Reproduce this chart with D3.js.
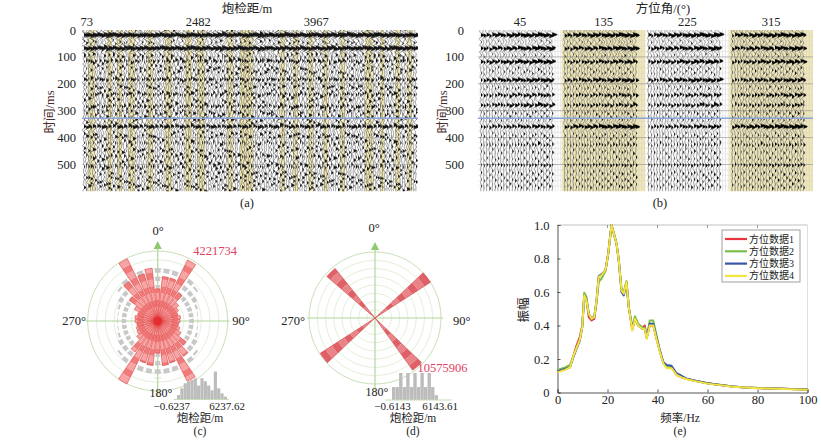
<!DOCTYPE html>
<html>
<head>
<meta charset="utf-8">
<script src="https://cdn.jsdelivr.net/npm/d3@7"></script>
<style>
  body { margin: 0; background: #fff; }
  svg { display: block; }
  text { font-family: "Liberation Serif", "Noto Sans CJK SC", serif; fill: #222; }
</style>
</head>
<body>
<svg id="fig" width="821" height="441"></svg>
<script>
// ---------- data ----------
// (a) offset gather
const aOffsetTicks = ["73", "2482", "3967"];
const aOffsetTickTrace = [1, 51, 104];
const aEventTimes = [19, 68, 115, 183, 239, 283, 359, 421, 471, 508];
const aEventAmps = [1.3, 1.2, 0.6, 0.65, 0.55, 0.6, 0.95, 0.35, 0.35, 0.4];
const aNoiseTimes = [6, 40, 52, 90, 100, 135, 150, 162, 205, 220, 260, 300, 312, 335, 385, 400, 440, 455, 490, 525, 540, 555, 570, 585];
const aYellowBands = [[1.8, 4.9], [10.3, 12.6], [14.8, 17.1], [19.7, 22.9], [28.3, 31], [36.4, 39.5], [45.3, 48.5], [50.7, 54.3],
  [64.2, 66.9], [70, 75.9], [88, 90.2], [93.8, 96], [100.5, 102.8], [107.3, 109.5], [114.9, 117.1], [126.1, 129.7],
  [132.9, 134.7], [139.6, 141.8], [145, 147.2]];
const aTraceShift = [0, 9, -6, 14, -11, 4, -3, 11, -8, 6, -13, 2, 8, -5, 12, -2, 5];
const aTraceJitter = [0, 2, -1, 3, -2, 1, -3];
const aNoiseAmp = [0.15, 0.3, 0.95, 0.2, 0.1, 0.55, 0.25, 0.85, 0.15, 0.35, 0.1, 0.65, 0.2];
const aEventVar = [1, 0.5, 0.9, 0.3, 0.8, 0.6, 1.1];

// (b) azimuth gather
const bAzimuths = ["45", "135", "225", "315"];
const bYellow = [false, true, false, true];
const bEventTimes = [19, 68, 118, 186, 242, 279, 359, 427, 502];
const bEventAmps = [
  [1.0, 0.95, 0.9, 0.8, 0.6, 0.7, 0.6, 0.35, 0.35],
  [1.0, 0.9, 0.7, 0.75, 0.55, 0.55, 0.9, 0.35, 0.35],
  [1.0, 0.9, 0.85, 0.8, 0.55, 0.6, 0.6, 0.3, 0.35],
  [1.0, 0.9, 0.8, 0.7, 0.6, 0.5, 0.95, 0.4, 0.4]
];
const bEventVar = [1, 0.75, 0.9, 0.55, 0.85];
const bNoiseTimes = [45, 95, 140, 160, 215, 260, 305, 330, 390, 410, 450, 480, 530, 555, 580];
const bTraceShift = [0, 6, -4, 9, -7, 3, -2, 7, -5, 4, -8, 1, 5];
const bNoiseAmp = [0.25, 0.08, 0.18, 0.3, 0.05, 0.15, 0.22];
const bGainRamp = [0.6, 0.65, 0.6, 0.7, 0.75, 0.7, 0.8, 0.8, 0.75, 0.85, 0.9, 0.85, 0.9, 0.95, 0.9, 1.0, 1.0, 0.95, 1.05, 1.0, 1.1, 1.05, 1.1, 1.15, 1.0, 0.9];
const blueLineTime = 328;
const timeTicks = [0, 100, 200, 300, 400, 500];

// (c) rose of all azimuths (10 degree bins)
const roseCAngles = d3.range(0, 360, 10);
const roseCCounts = [1940000, 2700000, 2700000, 4100000, 2110000, 1560000, 1390000, 1270000, 1390000, 1350000,
  1270000, 1390000, 1560000, 2110000, 2620000, 4050000, 2620000, 2700000, 1940000, 2700000,
  2620000, 4221734, 2320000, 1560000, 1390000, 1350000, 1270000, 1350000, 1390000, 1270000,
  1560000, 2110000, 2950000, 4180000, 2950000, 3200000];
const roseCGray = [3380000, 3380000, 3290000, 3290000, 3170000, 3040000, 2790000, 2530000, 2450000, 2450000,
  2450000, 2530000, 2790000, 3040000, 3170000, 3290000, 3380000, 3380000, 3460000, 3380000,
  3380000, 3290000, 3170000, 3040000, 2790000, 2530000, 2450000, 2450000, 2450000, 2530000,
  2790000, 3040000, 3170000, 3290000, 3290000, 3380000];
const roseCMax = 4221734;
const histC = [0.16, 0.4, 0.58, 0.65, 0.7, 0.76, 0.5, 0.76, 0.65, 0.5, 0.33, 1.0, 0.4, 0.22, 0.1];

// (d) rose of selected azimuths
const roseDAngles = [52, 139, 232, 316];
const roseDCounts = [10575906, 10320000, 10450000, 10200000];
const roseDMax = 10575906;
const histD = [0.48, 0.48, 1.0, 0.48, 1.0, 0.48, 1.0, 0.48, 1.0, 0.48, 1.0, 0.48, 0.18];

// (e) amplitude spectra
const freq = [0, 3, 5, 6.3, 7.6, 8.9, 9.9, 10.7, 11.6, 12.5, 13.6, 14.7, 15.6, 16.5, 17.6, 19.2, 20.3, 21.6, 22.7, 23.6,
  24.5, 25.6, 26.5, 27.6, 28.5, 29.9, 31, 32.3, 33.9, 34.9, 35.7, 36.9, 38.3, 39.6, 40.9, 42.3, 43.6, 45.6, 47.6, 49.6,
  52, 55, 60, 65, 70, 75, 80, 90, 100];
const amp1 = [0.13, 0.14, 0.155, 0.215, 0.28, 0.33, 0.4, 0.575, 0.55, 0.45, 0.43, 0.44, 0.54, 0.69, 0.70, 0.73, 0.83, 1.0, 0.94, 0.89,
  0.79, 0.61, 0.59, 0.66, 0.51, 0.375, 0.44, 0.40, 0.385, 0.40, 0.33, 0.40, 0.40, 0.32, 0.25, 0.18, 0.15, 0.15, 0.105, 0.09,
  0.08, 0.07, 0.055, 0.045, 0.036, 0.03, 0.027, 0.022, 0.018];
const amp2 = [0.135, 0.15, 0.165, 0.215, 0.265, 0.31, 0.39, 0.595, 0.57, 0.47, 0.445, 0.455, 0.54, 0.66, 0.68, 0.725, 0.83, 1.0, 0.94, 0.89,
  0.79, 0.62, 0.60, 0.665, 0.51, 0.39, 0.455, 0.41, 0.39, 0.385, 0.33, 0.43, 0.43, 0.34, 0.255, 0.18, 0.15, 0.155, 0.11, 0.095,
  0.08, 0.07, 0.055, 0.046, 0.036, 0.03, 0.027, 0.022, 0.018];
const amp3 = [0.125, 0.14, 0.15, 0.21, 0.26, 0.31, 0.39, 0.58, 0.555, 0.47, 0.44, 0.45, 0.55, 0.695, 0.705, 0.73, 0.83, 1.0, 0.94, 0.89,
  0.79, 0.60, 0.58, 0.655, 0.51, 0.38, 0.44, 0.40, 0.38, 0.38, 0.325, 0.41, 0.41, 0.33, 0.25, 0.18, 0.165, 0.16, 0.115, 0.10,
  0.08, 0.07, 0.055, 0.045, 0.036, 0.03, 0.027, 0.022, 0.018];
const amp4 = [0.12, 0.135, 0.15, 0.215, 0.265, 0.314, 0.39, 0.58, 0.55, 0.47, 0.44, 0.45, 0.55, 0.69, 0.70, 0.73, 0.83, 1.0, 0.94, 0.89,
  0.79, 0.61, 0.59, 0.66, 0.51, 0.37, 0.44, 0.40, 0.38, 0.38, 0.32, 0.40, 0.40, 0.32, 0.245, 0.175, 0.145, 0.145, 0.105, 0.09,
  0.078, 0.068, 0.053, 0.044, 0.035, 0.03, 0.026, 0.021, 0.017];
const seriesNames = ["方位数据1", "方位数据2", "方位数据3", "方位数据4"];
const seriesColors = ["#e8343c", "#78c04a", "#3a55a8", "#f4e43c"];

// ---------- helpers ----------
const svg = d3.select("#fig");
const yellowFill = "#f1e8b8";

function ricker(t, f) {
  const a = Math.PI * Math.PI * f * f * t * t / 1e6;
  return (1 - 2 * a) * Math.exp(-a);
}

const sampleT = d3.range(0, 601, 1.5);

function wiggle(g, y, x0, events, gain, fill, stroke, sw) {
  const pts = sampleT.map(t => [t, d3.sum(events, e => e.a * ricker(t - e.t, e.f))]);
  g.append("path")
    .attr("d", d3.area().y(d => y(d[0])).x0(x0).x1(d => x0 + Math.max(0, d[1]) * gain)(pts))
    .attr("fill", fill);
  g.append("path")
    .attr("d", d3.line().y(d => y(d[0])).x(d => x0 + d[1] * gain)(pts))
    .attr("fill", "none").attr("stroke", stroke).attr("stroke-width", sw);
}

function timeAxis(g, y, x, labelX) {
  g.append("g").attr("transform", `translate(${x},0)`)
    .call(d3.axisLeft(y).tickValues(timeTicks).tickSize(0).tickPadding(4))
    .call(a => a.select(".domain").remove())
    .selectAll("text").attr("font-size", 12.5).style("font-family", '"Liberation Serif", serif');
  g.append("text").attr("transform", `translate(${labelX},112) rotate(-90)`)
    .attr("text-anchor", "middle").attr("dy", "0.35em").attr("font-size", 12.5)
    .style("fill", "#4a2c2c").text("时间/ms");
}

// ---------- (a) ----------
const nA = 150;
const xA = d3.scaleLinear().domain([0, nA - 1]).range([84, 416]);
const yT = d3.scaleLinear().domain([0, 600]).range([30, 191.4]);
const gA = svg.append("g");
svg.append("clipPath").attr("id", "clipA").append("rect").attr("x", 82).attr("y", 30).attr("width", 336).attr("height", 161.4);
svg.append("clipPath").attr("id", "clipB").append("rect").attr("x", 478).attr("y", 30).attr("width", 335).attr("height", 161.4);

const plotA = gA.append("g").attr("clip-path", "url(#clipA)");
plotA.append("rect").attr("x", 82).attr("y", 30).attr("width", 336).attr("height", 161.4).attr("fill", "#fff");
plotA.selectAll("rect.band").data(aYellowBands).join("rect").attr("class", "band")
  .attr("x", d => xA(d[0])).attr("width", d => xA(d[1]) - xA(d[0]))
  .attr("y", 30).attr("height", 161.4).attr("fill", yellowFill);
plotA.selectAll("line.grid").data(timeTicks.slice(1)).join("line").attr("class", "grid")
  .attr("x1", 82).attr("x2", 418).attr("y1", d => yT(d)).attr("y2", d => yT(d))
  .attr("stroke", "#aaa").attr("stroke-width", 0.5);

d3.range(nA).forEach(i => {
  const jit = aTraceJitter[i % aTraceJitter.length];
  const shift = aTraceShift[i % aTraceShift.length];
  const ev = aEventTimes.map((t, k) => ({ t: t + jit, a: aEventAmps[k] * (k < 2 ? 1 : aEventVar[(i + k * 2) % aEventVar.length]), f: 30 }))
    .concat(aNoiseTimes.map((t, k) => ({ t: t + shift, a: aNoiseAmp[(i * 2 + k * 5) % aNoiseAmp.length], f: 34 })));
  wiggle(plotA, yT, xA(i), ev, 3.6, "#111", "#3a3a3a", 0.5);
});
plotA.append("line").attr("x1", 82).attr("x2", 418).attr("y1", yT(blueLineTime)).attr("y2", yT(blueLineTime))
  .attr("stroke", "#8aa4d8").attr("stroke-width", 1.6);

timeAxis(gA, yT, 80, 50);
gA.append("g").attr("transform", "translate(0,29)")
  .call(d3.axisTop(xA).tickValues(aOffsetTickTrace).tickFormat((d, i) => aOffsetTicks[i]).tickSize(0).tickPadding(3))
  .call(a => a.select(".domain").remove())
  .selectAll("text").attr("font-size", 12.5);
gA.append("text").attr("x", 247).attr("y", 12.5).attr("text-anchor", "middle").attr("font-size", 12.5).text("炮检距/m");
gA.append("text").attr("x", 247).attr("y", 207).attr("text-anchor", "middle").attr("font-size", 12.5).text("(a)");

// ---------- (b) ----------
const gB = svg.append("g");
const xG = d3.scaleBand().domain(bAzimuths).range([478, 813]);
const plotB = gB.append("g").attr("clip-path", "url(#clipB)");
const nB = bGainRamp.length;
bAzimuths.forEach((az, gi) => {
  const gx = xG(az);
  plotB.append("rect").attr("x", gx).attr("y", 30).attr("width", xG.bandwidth()).attr("height", 161.4)
    .attr("fill", bYellow[gi] ? yellowFill : "#fff");
  // trace baselines / grid
  d3.range(nB + 3).forEach(j => {
    plotB.append("line").attr("x1", gx + 3 + j * 2.85).attr("x2", gx + 3 + j * 2.85)
      .attr("y1", 30).attr("y2", 191.4).attr("stroke", "#c4c4c4").attr("stroke-width", 0.4);
  });
});
plotB.selectAll("line.hgrid").data(d3.range(20, 600, 20)).join("line").attr("class", "hgrid")
  .attr("x1", 478).attr("x2", 813).attr("y1", d => yT(d)).attr("y2", d => yT(d))
  .attr("stroke", d => d % 100 === 0 ? "#999" : "#d4d4d4").attr("stroke-width", d => d % 100 === 0 ? 0.7 : 0.4);

bAzimuths.forEach((az, gi) => {
  const gx = xG(az);
  d3.range(nB).forEach(j => {
    const shift = bTraceShift[(j + gi * 5) % bTraceShift.length];
    const jit = aTraceJitter[(j + gi) % aTraceJitter.length];
    const ev = bEventTimes.map((t, k) => ({ t: t + jit, a: bEventAmps[gi][k] * bEventVar[(j + k + gi) % bEventVar.length], f: 30 }))
      .concat(bNoiseTimes.map((t, k) => ({ t: t + shift, a: bNoiseAmp[(j + k * 2 + gi) % bNoiseAmp.length], f: 32 })));
    wiggle(plotB, yT, gx + 3 + j * 2.85, ev, 5.5 * bGainRamp[j], "#000", "#333", 0.4);
  });
});
plotB.append("line").attr("x1", 478).attr("x2", 813).attr("y1", yT(blueLineTime)).attr("y2", yT(blueLineTime))
  .attr("stroke", "#8aa4d8").attr("stroke-width", 1.6);

timeAxis(gB, yT, 468, 443);
gB.append("g").attr("transform", "translate(0,29)")
  .call(d3.axisTop(xG).tickSize(0).tickPadding(3))
  .call(a => a.select(".domain").remove())
  .selectAll("text").attr("font-size", 12.5);
gB.append("text").attr("x", 663).attr("y", 12.5).attr("text-anchor", "middle").attr("font-size", 12.5).text("方位角/(°)");
gB.append("text").attr("x", 660).attr("y", 207).attr("text-anchor", "middle").attr("font-size", 12.5).text("(b)");

// ---------- rose helpers ----------
const rad = Math.PI / 180;
function roseFrame(g, cx, cy, R) {
  const f = g.append("g").attr("transform", `translate(${cx},${cy})`);
  d3.range(1, 9).forEach(k => {
    f.append("circle").attr("r", R * k / 8).attr("fill", "none")
      .attr("stroke", k === 8 ? "#c9e0b8" : "#dcebd0").attr("stroke-width", k === 8 ? 1 : 0.8);
  });
  f.append("line").attr("x1", 0).attr("x2", 0).attr("y1", -R - 6).attr("y2", R + 6).attr("stroke", "#b2d699").attr("stroke-width", 1.2);
  f.append("line").attr("x1", -R - 2).attr("x2", R + 2).attr("y1", 0).attr("y2", 0).attr("stroke", "#b2d699").attr("stroke-width", 1.2);
  f.append("path").attr("d", `M0,${-R - 10}L-4,${-R - 2}L4,${-R - 2}Z`).attr("fill", "#8cca6c");
  return f;
}

function stripedBar(f, angle, len, halfW, segLen, colors, stroke) {
  const a0 = (angle - halfW) * rad, a1 = (angle + halfW) * rad;
  const n = Math.ceil(len / segLen);
  d3.range(n).forEach(s => {
    f.append("path").attr("d", d3.arc()({ innerRadius: s * segLen, outerRadius: Math.min(len, (s + 1) * segLen), startAngle: a0, endAngle: a1 }))
      .attr("fill", colors[s % 2]);
  });
  f.append("path").attr("d", d3.arc()({ innerRadius: 0, outerRadius: len, startAngle: a0, endAngle: a1 }))
    .attr("fill", "none").attr("stroke", stroke).attr("stroke-width", 0.6);
}

function histogram(g, x0, x1, base, hMax, vals, axisX0, axisX1) {
  const hx = d3.scaleBand().domain(d3.range(vals.length)).range([x0, x1]).paddingInner(0.05);
  const hy = d3.scaleLinear().domain([0, 1]).range([0, hMax]);
  g.selectAll(null).data(vals).join("rect")
    .attr("x", (d, i) => hx(i)).attr("width", hx.bandwidth())
    .attr("y", d => base - hy(d)).attr("height", d => hy(d)).attr("fill", "#bcbcbc");
  g.append("line").attr("x1", axisX0).attr("x2", axisX1).attr("y1", base).attr("y2", base).attr("stroke", "#c7dcb6").attr("stroke-width", 1);
}

function label(g, x, y, txt, size, anchor, color) {
  return g.append("text").attr("x", x).attr("y", y).attr("text-anchor", anchor || "middle")
    .attr("font-size", size).style("fill", color || "#222").text(txt);
}

// ---------- (c) ----------
const gC = svg.append("g");
const cxC = 157.7, cyC = 321, RC = 70;
const fC = roseFrame(gC, cxC, cyC, RC);
const rC = d3.scaleLinear().domain([0, roseCMax]).range([0, RC]);
// gray background rose, dashed segments
roseCAngles.forEach((ang, k) => {
  const len = rC(roseCGray[k]);
  for (let r = 0.45 * RC; r < len; r += 0.12 * RC) {
    fC.append("path").attr("d", d3.arc()({ innerRadius: r, outerRadius: Math.min(len, r + 0.065 * RC), startAngle: (ang - 3.4) * rad, endAngle: (ang + 3.4) * rad }))
      .attr("fill", "#c8c8c8");
  }
});
roseCAngles.forEach((ang, k) => {
  stripedBar(fC, ang, rC(roseCCounts[k]), 4.0, RC / 10, ["#f07b7b", "#f6a4a4"], "#e24040");
});
fC.append("circle").attr("r", 4.5).attr("fill", "#e62a2e").attr("opacity", 0.9);
label(gC, 158, 235, "0°", 12.5);
label(gC, 241, 325, "90°", 12.5);
label(gC, 86, 325, "270°", 12.5, "end");
label(gC, 161, 396.5, "180°", 12);
label(gC, 215, 255, "4221734", 12.5, "middle", "#e2405e");
histogram(gC, 177, 227, 399.5, 28, histC, 174, 229);
label(gC, 171.7, 409.5, "\u22120.6237", 11);
label(gC, 227, 409.5, "6237.62", 11);
label(gC, 200, 422, "炮检距/m", 11.5);
label(gC, 200, 435, "(c)", 11.5);

// ---------- (d) ----------
const gD = svg.append("g");
const cxD = 375, cyD = 318, RD = 66;
const fD = roseFrame(gD, cxD, cyD, RD);
const rD = d3.scaleLinear().domain([0, roseDMax]).range([0, RD]);
roseDAngles.forEach((ang, k) => {
  stripedBar(fD, ang, rD(roseDCounts[k]), 5.2, RD / 9, ["#df6066", "#e98589"], "#d24a4e");
});
label(gD, 374, 232, "0°", 12.5);
label(gD, 453, 325, "90°", 12.5, "start");
label(gD, 305, 325, "270°", 12.5, "end");
label(gD, 377, 395.5, "180°", 12);
histogram(gD, 392, 438, 400, 27, histD, 385, 452);
label(gD, 442.5, 372, "10575906", 12.5, "middle", "#e2405e");
label(gD, 392.5, 409.5, "\u22120.6143", 11);
label(gD, 440, 409.5, "6143.61", 11);
label(gD, 413, 422, "炮检距/m", 11.5);
label(gD, 413, 435, "(d)", 11.5);

// ---------- (e) ----------
const gE = svg.append("g");
const xE = d3.scaleLinear().domain([0, 100]).range([557.5, 807.5]);
const yE = d3.scaleLinear().domain([0, 1]).range([392.5, 225]);
gE.append("line").attr("x1", xE(0)).attr("x2", xE(100)).attr("y1", yE(1)).attr("y2", yE(1)).attr("stroke", "#d6d6d6").attr("stroke-width", 1.5);
gE.append("line").attr("x1", xE(100)).attr("x2", xE(100)).attr("y1", yE(1)).attr("y2", yE(0)).attr("stroke", "#e0e0e0").attr("stroke-width", 1);
gE.selectAll("line.tt").data([20, 40, 60, 80]).join("line").attr("class", "tt")
  .attr("x1", d => xE(d)).attr("x2", d => xE(d)).attr("y1", yE(1)).attr("y2", yE(1) + 3).attr("stroke", "#999");
gE.append("g").attr("transform", `translate(0,${yE(0)})`)
  .call(d3.axisBottom(xE).tickValues([0, 20, 40, 60, 80, 100]).tickSize(-3).tickPadding(3))
  .call(a => a.selectAll("text").attr("font-size", 12.5))
  .call(a => a.selectAll("line, path").attr("stroke", "#555"));
gE.append("g").attr("transform", `translate(${xE(0)},0)`)
  .call(d3.axisLeft(yE).tickValues([0, 0.2, 0.4, 0.6, 0.8, 1.0]).tickFormat(d => d === 0 ? "0" : d3.format(".1f")(d)).tickSize(-3).tickPadding(8))
  .call(a => a.selectAll("text").attr("font-size", 12.5))
  .call(a => a.selectAll("line, path").attr("stroke", "#555"));

const series = [amp1, amp2, amp3, amp4];
const lineE = d3.line().x((d, i) => xE(freq[i])).y(d => yE(d)).curve(d3.curveLinear);
series.forEach((s, k) => {
  gE.append("path").attr("d", lineE(s)).attr("fill", "none")
    .attr("stroke", seriesColors[k]).attr("stroke-width", 2).attr("stroke-linejoin", "round");
});

const leg = gE.append("g").attr("transform", "translate(722,230)");
leg.append("rect").attr("width", 78).attr("height", 52).attr("fill", "#fff").attr("stroke", "#888").attr("stroke-width", 0.8);
seriesNames.forEach((n, k) => {
  const yy = 9 + k * 12.3;
  leg.append("line").attr("x1", 3).attr("x2", 25).attr("y1", yy).attr("y2", yy).attr("stroke", seriesColors[k]).attr("stroke-width", 2.2);
  leg.append("text").attr("x", 27).attr("y", yy).attr("dy", "0.35em").attr("font-size", 10).text(n);
});

gE.append("text").attr("transform", "translate(524,310) rotate(-90)").attr("text-anchor", "middle").attr("dy", "0.35em")
  .attr("font-size", 12.5).text("振幅");
label(gE, 680, 421.5, "频率/Hz", 11.5);
label(gE, 680, 434.5, "(e)", 11.5);
</script>
</body>
</html>
